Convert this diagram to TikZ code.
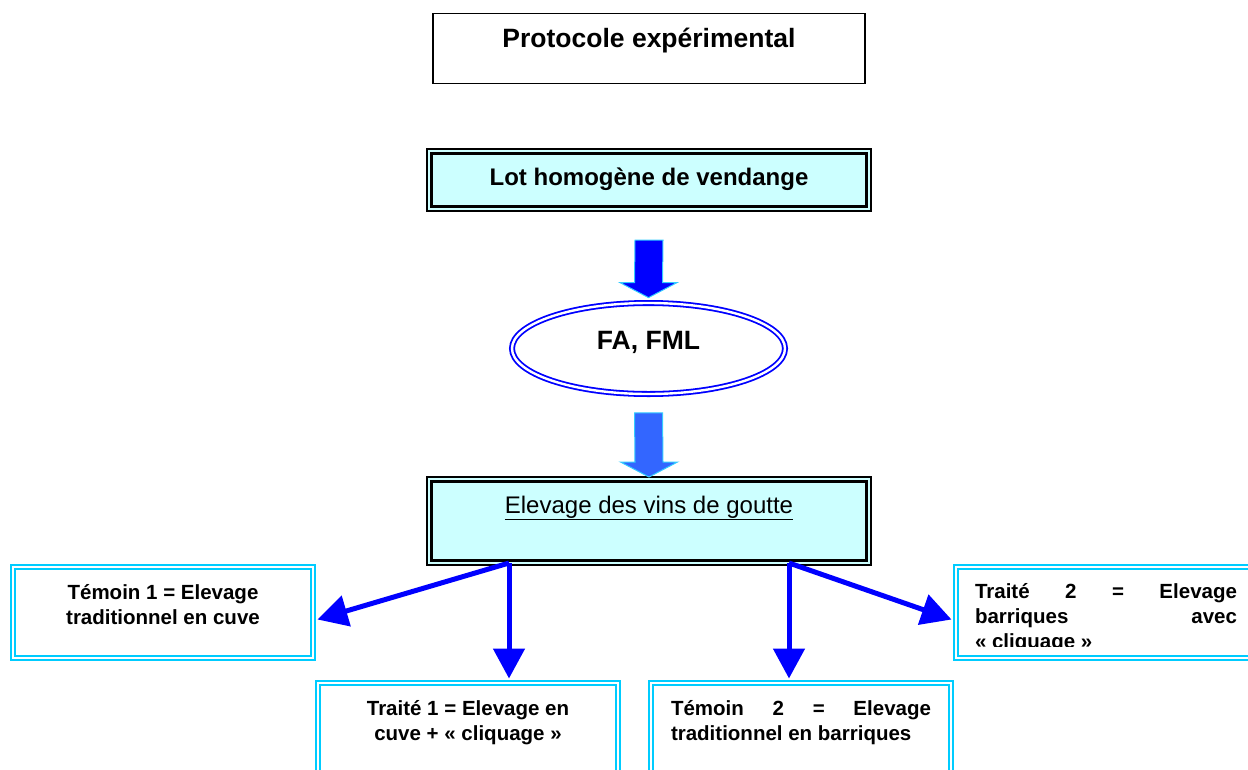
\documentclass[tikz,border=0pt]{standalone}
\usepackage{fontspec}
\setmainfont{Liberation Sans}
\usetikzlibrary{arrows.meta,shapes.geometric,calc}
\definecolor{lcyan}{HTML}{CCFFFF}
\definecolor{bcyan}{HTML}{00CCFF}
\definecolor{acyan}{HTML}{33CCFF}
\definecolor{pblue}{HTML}{0000FF}
\definecolor{mblue}{HTML}{3366FF}
% block arrow from #1 (top of shaft) to #2 (tip), fill #3
\newcommand{\blkarrow}[3]{%
  \filldraw[fill=#3, draw=acyan, line width=1pt, line join=miter]
    ($(#1)+(-14,0)$) -- ($(#1)+(14,0)$) -- ($(#2)+(14,-15)$) -- ($(#2)+(28.5,-15)$)
    -- (#2) -- ($(#2)+(-28.5,-15)$) -- ($(#2)+(-14,-15)$) -- cycle;}
\newcommand{\jline}[2]{\makebox[#1][l]{#2}}
\begin{document}
\begin{tikzpicture}[x=1pt,y=-1pt,
  titlebox/.style={draw, line width=1.5pt, inner sep=0pt, font=\bfseries\fontsize{26.5}{30}\selectfont},
  bigbox/.style={draw, line width=2pt, fill=lcyan, inner sep=0pt, font=\fontsize{24}{28}\selectfont},
  smallbox/.style={draw=bcyan, double=white, line width=2pt, double distance=2pt, fill=white, inner sep=0pt, font=\bfseries\fontsize{20.5}{25}\selectfont},
  ovalnode/.style={ellipse, draw=pblue, double=white, line width=1.8pt, double distance=2.4pt, inner sep=0pt, minimum width=273pt, minimum height=91pt, font=\bfseries\fontsize{26.5}{30}\selectfont},
  conn/.style={draw=pblue, line width=5pt, -{Triangle[length=30pt,width=31pt]}}
]
\useasboundingbox (0,0) rectangle (1248,769);
\clip (0,0) rectangle (1248,769);

% title
\node[titlebox] (title) at (649,48.5)
  {\parbox[c][70pt][t]{432pt}{\centering\rule{0pt}{34.3pt}Protocole expérimental}};

% lot homogene
\node[bigbox] (lot) at (649,180)
  {\parbox[c][62pt][t]{444pt}{\centering\rule{0pt}{36.5pt}\bfseries Lot homogène de vendange}};
\draw[line width=3pt] ([shift={(5.5pt,-5.5pt)}]lot.north west) rectangle ([shift={(-5.5pt,5.5pt)}]lot.south east);

% ellipse
\node[ovalnode] (fa) at (648.5,348.5)
  {\parbox[c][48pt][t]{130pt}{\centering\rule{0pt}{24.5pt}FA, FML}};

% elevage
\node[bigbox] (elev) at (649,521)
  {\parbox[c][88pt][t]{444pt}{\centering\rule{0pt}{36pt}\underline{Elevage des vins de goutte}}};
\draw[line width=3pt] ([shift={(5.5pt,-5.5pt)}]elev.north west) rectangle ([shift={(-5.5pt,5.5pt)}]elev.south east);

% block arrows
\coordinate (a1s) at ($(lot.south)+(0,28)$);
\coordinate (a1e) at ($(fa.north)+(0,-4.5)$);
\blkarrow{a1s}{a1e}{pblue}
\coordinate (a2s) at ($(fa.south)+(0,18)$);
\coordinate (a2e) at ($(elev.north)+(0,1)$);
\blkarrow{a2s}{a2e}{mblue}

% small boxes
\node[smallbox] (t1) at (163,612.5)
  {\parbox[c][91pt][t]{300pt}{\centering\rule{0pt}{32.5pt}Témoin 1 = Elevage\\traditionnel en cuve}};
\node[smallbox] (tr1) at (468,728.5)
  {\parbox[c][91pt][t]{300pt}{\centering\rule{0pt}{32.5pt}Traité 1 = Elevage en\\cuve + «~cliquage~»}};
\node[smallbox] (t2) at (801,728.5)
  {\parbox[c][91pt][t]{300pt}{\centering\rule{0pt}{32.5pt}\jline{260pt}{Témoin\hfill 2\hfill =\hfill Elevage}\\\jline{260pt}{traditionnel en barriques\hfill}}};
\node[smallbox] (tr2) at (1106,612.5) {\parbox[c][91pt][t]{300pt}{\mbox{}}};
\begin{scope}
  \clip (958,568) rectangle (1254,646);
  \node[anchor=north, inner sep=0pt, font=\bfseries\fontsize{20.5}{25}\selectfont] (tr2txt) at (tr2.north)
    {\parbox[t][91pt][t]{300pt}{\centering\rule{0pt}{32.5pt}\jline{262pt}{Traité\hfill 2\hfill =\hfill Elevage}\\\jline{262pt}{barriques\hfill avec}\\\jline{262pt}{«~cliquage~»\hfill}}};
\end{scope}

% connectors
\coordinate (s1) at ($(elev.south)+(-140,-3)$);
\coordinate (s2) at ($(elev.south)+(140,-3)$);
\coordinate (e1) at (s1 |- tr1.north);
\coordinate (e2) at (s2 |- t2.north);
\draw[conn] (s1) -- ([xshift=3.5pt,yshift=-7pt]t1.east);
\draw[conn] (s1) -- ([yshift=3.5pt]e1);
\draw[conn] (s2) -- ([yshift=3.5pt]e2);
\draw[conn] (s2) -- ([xshift=-3.5pt,yshift=-7pt]tr2.west);
\end{tikzpicture}
\end{document}
